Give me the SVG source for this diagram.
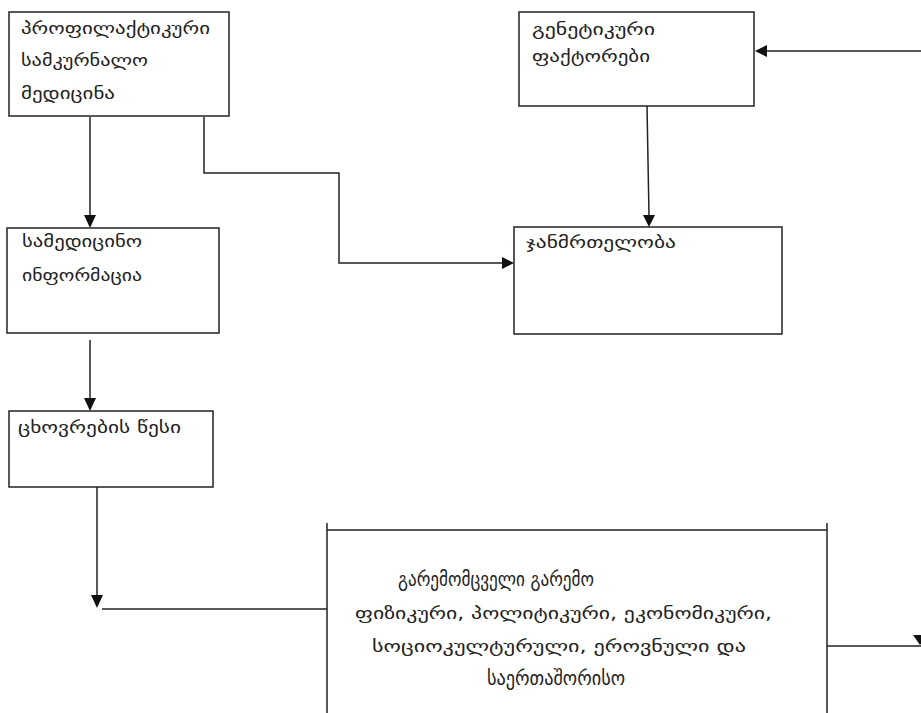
<svg xmlns="http://www.w3.org/2000/svg" width="921" height="713" viewBox="0 0 921 713">
<style>
.box{fill:#fff;stroke:#222;stroke-width:1.5}
.ln{fill:none;stroke:#222;stroke-width:1.5}
.ah{fill:#111}
.t{font-family:"DejaVu Sans","Noto Sans",sans-serif;font-size:17px;fill:#222}
.b{font-size:19px}
</style>
<rect width="921" height="713" fill="#fff"/>
<g id="connectors">
<path class="ln" d="M90,117 V216"/>
<polygon class="ah" points="84,215 96,215 90,228"/>
<path class="ln" d="M204,117 V173 H339 V263 H503"/>
<polygon class="ah" points="502,257 502,269 514,263"/>
<path class="ln" d="M647,106 L649,216"/>
<polygon class="ah" points="643,215 655,215 649,227"/>
<path class="ln" d="M921,51 H767"/>
<polygon class="ah" points="767,45 767,57 755,51"/>
<path class="ln" d="M90,340 V399"/>
<polygon class="ah" points="84,398 96,398 90,411"/>
<path class="ln" d="M97,487 V596"/>
<polygon class="ah" points="91,595 103,595 97,608"/>
<path class="ln" d="M102,609 H327"/>
<path class="ln" d="M827,646 H921"/>
<polygon class="ah" points="913,635 927,635 920,645"/>
</g>
<g id="n1">
<rect class="box" x="9" y="12" width="220" height="104"/>
<text class="t" x="21" y="34" textLength="189" lengthAdjust="spacingAndGlyphs">პროფილაქტიკური</text>
<text class="t" x="21" y="66" textLength="127" lengthAdjust="spacingAndGlyphs">სამკურნალო</text>
<text class="t" x="21" y="99" textLength="94" lengthAdjust="spacingAndGlyphs">მედიცინა</text>
</g>
<g id="n2">
<rect class="box" x="519" y="12" width="235" height="94"/>
<text class="t" x="532" y="35" textLength="123" lengthAdjust="spacingAndGlyphs">გენეტიკური</text>
<text class="t" x="532" y="62" textLength="118" lengthAdjust="spacingAndGlyphs">ფაქტორები</text>
</g>
<g id="n3">
<rect class="box" x="7" y="228" width="212" height="105"/>
<text class="t" x="22" y="247" textLength="120" lengthAdjust="spacingAndGlyphs">სამედიცინო</text>
<text class="t" x="22" y="281" textLength="120" lengthAdjust="spacingAndGlyphs">ინფორმაცია</text>
</g>
<g id="n4">
<rect class="box" x="514" y="227" width="268" height="107"/>
<text class="t" x="526" y="248" textLength="150" lengthAdjust="spacingAndGlyphs">ჯანმრთელობა</text>
</g>
<g id="n5">
<rect class="box" x="9" y="411" width="204" height="76"/>
<text class="t" x="18" y="433" textLength="163" lengthAdjust="spacingAndGlyphs">ცხოვრების წესი</text>
</g>
<g id="n6">
<path class="ln" d="M327,713 V523 M327,530 H827 M827,523 V713"/>
<text class="t b" x="398" y="586" textLength="196" lengthAdjust="spacingAndGlyphs">გარემომცველი გარემო</text>
<text class="t" x="355" y="619" textLength="417" lengthAdjust="spacingAndGlyphs">ფიზიკური, პოლიტიკური, ეკონომიკური,</text>
<text class="t" x="372" y="652" textLength="374" lengthAdjust="spacingAndGlyphs">სოციოკულტურული, ეროვნული და</text>
<text class="t b" x="487" y="685" textLength="138" lengthAdjust="spacingAndGlyphs">საერთაშორისო</text>
</g>
</svg>
